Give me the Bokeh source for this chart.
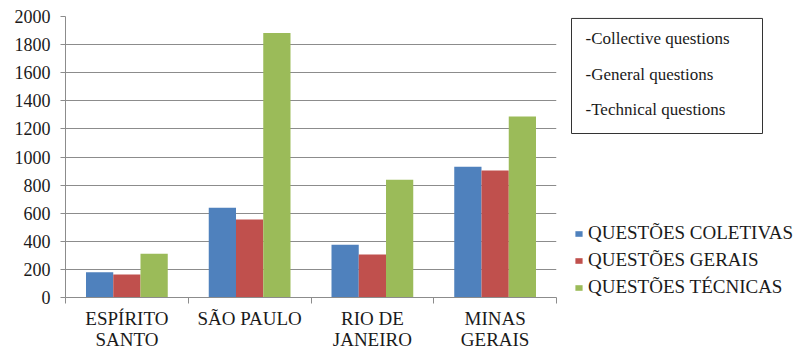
from bokeh.plotting import figure
from bokeh.layouts import row
from bokeh.models import (Range1d, FixedTicker, Legend, LegendItem, Label, ColumnDataSource)
from bokeh.embed import file_html
from bokeh.resources import INLINE

# ---- data ----
states = ["ESPÍRITO\nSANTO", "SÃO PAULO", "RIO DE\nJANEIRO", "MINAS\nGERAIS"]
series_names = ["QUESTÕES COLETIVAS", "QUESTÕES GERAIS", "QUESTÕES TÉCNICAS"]
coletivas = [180, 638, 375, 930]
gerais = [164, 555, 306, 904]
tecnicas = [311, 1882, 838, 1288]
box_lines = ["-Collective questions", "-General questions", "-Technical questions"]
y_ticks = [0, 200, 400, 600, 800, 1000, 1200, 1400, 1600, 1800, 2000]

colors = ["#4F81BD", "#C0504D", "#9BBB59"]
FONT = "Liberation Serif, Tinos, Times New Roman, Times, DejaVu Serif, Noto Serif, serif"
GRAY = "#8C8C8C"
TXT = "#1a1a1a"

p = figure(width=560, height=352, output_backend="svg", toolbar_location=None,
           x_range=Range1d(0, len(states)), y_range=Range1d(0, 2000),
           min_border_left=65, min_border_right=4, min_border_top=16, min_border_bottom=55)
p.outline_line_color = None
p.xgrid.grid_line_color = None
p.ygrid.grid_line_color = GRAY
p.ygrid.grid_line_width = 1

bw = 0.222
sources = []
for k, vals in enumerate([coletivas, gerais, tecnicas]):
    xs = [i + 0.5 + (k - 1) * bw for i in range(len(states))]
    src = ColumnDataSource(dict(x=xs, top=vals))
    sources.append(src)
    p.vbar(x="x", top="top", bottom=0, width=bw, source=src,
           fill_color=colors[k], line_color=None)

# x axis
centers = [i + 0.5 for i in range(len(states))]
p.xaxis.ticker = FixedTicker(ticks=centers, minor_ticks=list(range(len(states) + 1)))
p.xaxis.major_label_overrides = {c: s for c, s in zip(centers, states)}
p.xaxis.major_tick_line_color = None
p.xaxis.major_tick_out = 0
p.xaxis.major_tick_in = 0
p.xaxis.minor_tick_line_color = GRAY
p.xaxis.minor_tick_out = 6
p.xaxis.minor_tick_in = 0
p.xaxis.axis_line_color = GRAY
p.xaxis.major_label_text_font = FONT
p.xaxis.major_label_text_font_size = "19px"
p.xaxis.major_label_text_color = TXT
p.xaxis.major_label_standoff = 4
p.xaxis.major_label_text_line_height = 1.0

# y axis
p.yaxis.ticker = FixedTicker(ticks=y_ticks)
p.yaxis.axis_line_color = GRAY
p.yaxis.major_tick_line_color = GRAY
p.yaxis.major_tick_out = 5
p.yaxis.major_tick_in = 0
p.yaxis.minor_tick_line_color = None
p.yaxis.major_label_text_font = FONT
p.yaxis.major_label_text_font_size = "18px"
p.yaxis.major_label_text_color = TXT
p.yaxis.major_label_standoff = 10

# side panel with legend and text box (frame aligned with main plot: top 16, bottom 297)
q = figure(width=235, height=352, output_backend="svg", toolbar_location=None,
           x_range=Range1d(0, 235), y_range=Range1d(0, 281),
           x_axis_type=None, y_axis_type=None,
           min_border_left=0, min_border_right=0, min_border_top=16, min_border_bottom=55)
q.outline_line_color = None
q.grid.visible = False

swatches = []
for k in range(3):
    r = q.vbar(x="x", top="top", width=bw, source=sources[k],
               fill_color=colors[k], line_color=None, visible=False)
    swatches.append(r)

legend = Legend(items=[LegendItem(label=n, renderers=[r]) for n, r in zip(series_names, swatches)],
                location=(14, -1), padding=0, margin=0, spacing=5,
                glyph_width=9, glyph_height=7, label_standoff=5, label_height=20,
                label_text_font=FONT, label_text_font_size="19px", label_text_color=TXT,
                border_line_color=None, background_fill_alpha=0)
q.add_layout(legend, "center")

box = Label(x=11, y=164, x_units="screen", y_units="screen", anchor="bottom_left",
            text="\n".join(box_lines), text_font=FONT, text_font_size="17px",
            text_color=TXT, text_line_height=1.87,
            border_line_color="#333333", border_line_width=1,
            background_fill_color="white",
            padding=dict(left=14, right=33, top=11, bottom=14))
q.add_layout(box)

layout = row(p, q, spacing=0)
open("out.html", "w").write(file_html(layout, INLINE))
